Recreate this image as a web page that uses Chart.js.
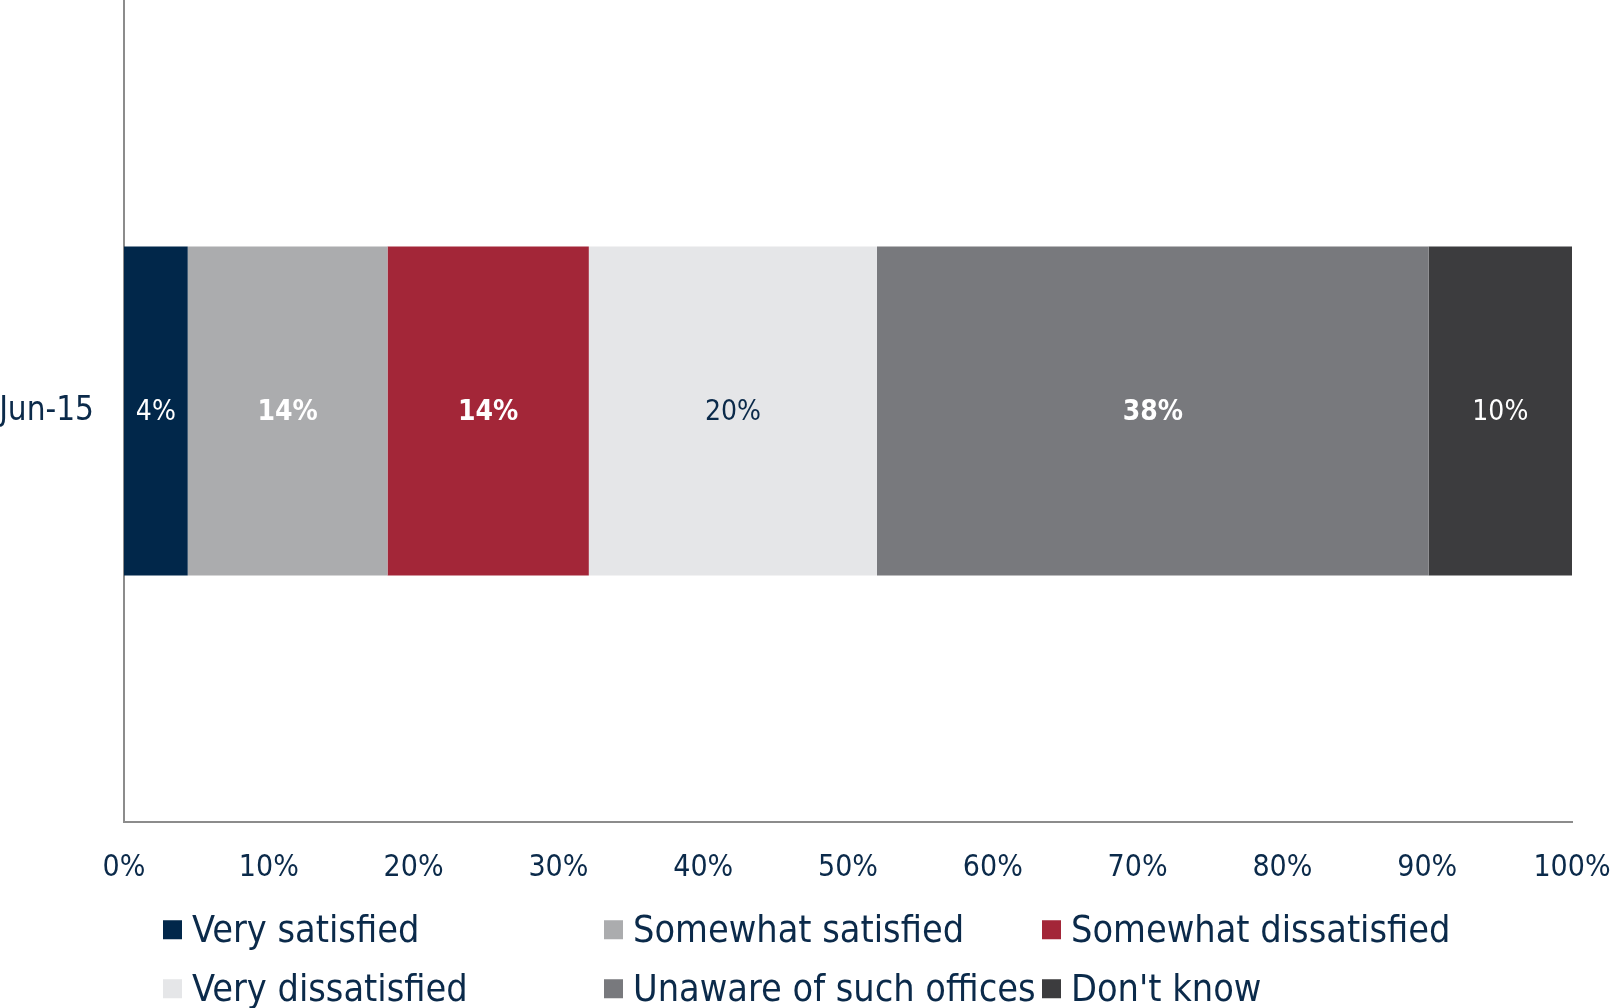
<!DOCTYPE html>
<html>
<head>
<meta charset="utf-8">
<script src="https://cdn.jsdelivr.net/npm/chart.js@4.4.1/dist/chart.umd.min.js"></script>
<style>
  html, body { margin: 0; padding: 0; background: #fff; }
  #wrap { position: relative; width: 1610px; height: 1008px; overflow: hidden; }
  #chartBox { position: absolute; left: 0; top: 0; width: 1610px; height: 914px; }
  #legend { position: absolute; left: 0; top: 0; width: 1610px; height: 1008px;
    font-family: 'Liberation Sans Narrow', 'DejaVu Sans Condensed', 'Liberation Sans', sans-serif;
    color: #0b2a4a; }
  .item { position: absolute; display: flex; align-items: center; font-size: 37.5px;
    line-height: 1; white-space: nowrap; transform: translateY(-50%); }
  .box { width: 19px; height: 19px; margin-right: 10px; flex: none; }
</style>
</head>
<body>
<div id="wrap">
  <div id="chartBox"><canvas id="chartSurvey"></canvas></div>
  <div id="legend"></div>
</div>
<script>
  const categories = ["Jun-15"];
  const seriesNames = ["Very satisfied", "Somewhat satisfied", "Somewhat dissatisfied",
    "Very dissatisfied", "Unaware of such offices", "Don't know"];
  const verySatisfied = [4.4];
  const somewhatSatisfied = [13.8];
  const somewhatDissatisfied = [13.9];
  const veryDissatisfied = [19.9];
  const unaware = [38.1];
  const dontKnow = [9.9];
  const xTicks = [0, 10, 20, 30, 40, 50, 60, 70, 80, 90, 100];

  const seriesColors = ["#01274a", "#abacae", "#a32638", "#e5e6e8", "#78797d", "#3c3c3e"];
  const labelColors = ["#ffffff", "#ffffff", "#ffffff", "#0b2a4a", "#ffffff", "#ffffff"];
  const labelBold = [false, true, true, false, true, false];

  const navy = "#0b2a4a";
  const fontFamily = "'Liberation Sans Narrow', 'DejaVu Sans Condensed', 'Liberation Sans', sans-serif";
  Chart.defaults.font.family = fontFamily;
  Chart.defaults.color = navy;

  const allValues = [verySatisfied, somewhatSatisfied, somewhatDissatisfied,
    veryDissatisfied, unaware, dontKnow];

  // labels inside each bar segment
  const barLabels = {
    id: "barLabels",
    afterDatasetsDraw(chart) {
      const ctx = chart.ctx;
      ctx.save();
      ctx.textAlign = "center";
      ctx.textBaseline = "middle";
      chart.data.datasets.forEach((ds, i) => {
        chart.getDatasetMeta(i).data.forEach((bar, j) => {
          const v = ds.data[j];
          ctx.font = (labelBold[i] ? "bold " : "") + "28px " + fontFamily;
          ctx.fillStyle = labelColors[i];
          ctx.fillText(Math.round(v) + "%", (bar.x + bar.base) / 2, bar.y + 2);
        });
      });
      ctx.restore();
    }
  };

  const chartSurvey = new Chart(document.getElementById("chartSurvey"), {
    type: "bar",
    data: {
      labels: categories,
      datasets: allValues.map((vals, i) => ({
        label: seriesNames[i],
        data: vals,
        backgroundColor: seriesColors[i],
        borderWidth: 0,
        categoryPercentage: 0.5,
        barPercentage: 0.8
      }))
    },
    options: {
      indexAxis: "y",
      responsive: true,
      maintainAspectRatio: false,
      animation: false,
      layout: { padding: 0 },
      plugins: {
        legend: { display: false },
        tooltip: { enabled: false }
      },
      scales: {
        x: {
          stacked: true,
          min: 0,
          max: 100,
          afterBuildTicks: (scale) => { scale.ticks = xTicks.map(v => ({ value: v })); },
          // tick padding would otherwise be added to the sides
          afterFit: (scale) => { scale.paddingLeft = 0; scale.paddingRight = 38; },
          grid: { display: false, drawTicks: false },
          border: { display: true, color: "#8c8c8c", width: 2 },
          ticks: { padding: 28, color: navy, font: { size: 30 }, callback: (v) => v + "%" }
        },
        y: {
          stacked: true,
          afterFit: (scale) => { scale.paddingTop = 0; scale.paddingBottom = 0; scale.width = 124; },
          grid: { display: false, drawTicks: false },
          border: { display: true, color: "#8c8c8c", width: 2 },
          ticks: { padding: 30, color: navy, font: { size: 33 } }
        }
      }
    },
    plugins: [barLabels]
  });

  // legend in a 3 column grid like the original
  const legend = document.getElementById("legend");
  const colLeft = [163, 604, 1042];
  const rowMid = [930, 989];
  seriesNames.forEach((name, i) => {
    const item = document.createElement("div");
    item.className = "item";
    item.style.left = colLeft[i % 3] + "px";
    item.style.top = rowMid[Math.floor(i / 3)] + "px";
    const box = document.createElement("span");
    box.className = "box";
    box.style.background = seriesColors[i];
    item.appendChild(box);
    item.appendChild(document.createTextNode(name));
    legend.appendChild(item);
  });
</script>
</body>
</html>
